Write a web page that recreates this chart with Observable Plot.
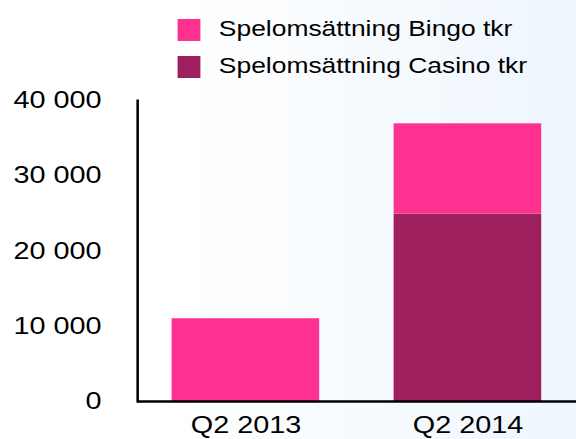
<!DOCTYPE html>
<html>
<head>
<meta charset="utf-8">
<script src="https://cdn.jsdelivr.net/npm/d3@7"></script>
<script src="https://cdn.jsdelivr.net/npm/@observablehq/plot@0.6"></script>
<style>
  html, body { margin: 0; padding: 0; }
  body {
    width: 576px; height: 439px; overflow: hidden;
    background: linear-gradient(90deg, #ffffff 0%, #ffffff 30%, #eef6fd 100%);
    font-family: "Liberation Sans", Arial, Helvetica, sans-serif;
  }
  #wrap { width: 480px; height: 439px; transform: scaleX(1.2); transform-origin: 0 0; }
  #legend { height: 80px; box-sizing: border-box; padding-top: 19px; padding-left: 148.3px; }
  .row { display: flex; align-items: center; height: 22px; margin-bottom: 15px; }
  .sw { width: 18.3px; height: 22px; flex: none; }
  .lab { font-size: 22px; color: #000; margin-left: 15.8px; position: relative; top: -1px; white-space: nowrap; }
  svg { display: block; }
</style>
</head>
<body>
<div id="wrap">
  <div id="legend"></div>
  <div id="chart"></div>
</div>
<script>
const quarters = ["Q2 2013", "Q2 2014"];
const seriesNames = ["Spelomsättning Bingo tkr", "Spelomsättning Casino tkr"];
const bingo = [11000, 12000];
const casino = [0, 24900];
const seriesColors = ["#FF3190", "#9D1F5E"];
const yTicks = [0, 10000, 20000, 30000, 40000];
const yTickLabels = ["0", "10 000", "20 000", "30 000", "40 000"];

// legend
const legend = document.getElementById("legend");
seriesNames.forEach((name, i) => {
  const row = document.createElement("div");
  row.className = "row";
  const sw = document.createElement("div");
  sw.className = "sw";
  sw.style.background = seriesColors[i];
  const lab = document.createElement("span");
  lab.className = "lab";
  lab.textContent = name;
  row.appendChild(sw);
  row.appendChild(lab);
  legend.appendChild(row);
});

// data: casino first so it stacks at the bottom
const data = [];
quarters.forEach((q, i) => {
  data.push({quarter: q, series: seriesNames[1], value: casino[i]});
  data.push({quarter: q, series: seriesNames[0], value: bingo[i]});
});

const chart = Plot.plot({
  width: 480,
  height: 359,
  marginTop: 20,
  marginBottom: 38,
  marginLeft: 114.2,
  marginRight: 0,
  style: {
    fontFamily: '"Liberation Sans", Arial, Helvetica, sans-serif',
    fontSize: "24px",
    background: "transparent",
    color: "#000",
    overflow: "visible"
  },
  x: {domain: quarters, paddingInner: 0.3375, paddingOuter: 0.156, label: null},
  y: {domain: [0, 40000], label: null},
  color: {domain: seriesNames, range: seriesColors},
  marks: [
    Plot.barY(data, {x: "quarter", y: "value", fill: "series"}),
    Plot.axisY({ticks: yTicks, tickFormat: d => yTickLabels[yTicks.indexOf(d)], tickSize: 0, tickPadding: 30, fontSize: 24, label: null}),
    Plot.axisX({tickSize: 0, tickPadding: 14, fontSize: 24, label: null}),
    Plot.frame({anchor: "left", stroke: "#000", strokeWidth: 2.1}),
    Plot.ruleY([0], {stroke: "#000", strokeWidth: 2.6})
  ]
});
document.getElementById("chart").appendChild(chart);
</script>
</body>
</html>
